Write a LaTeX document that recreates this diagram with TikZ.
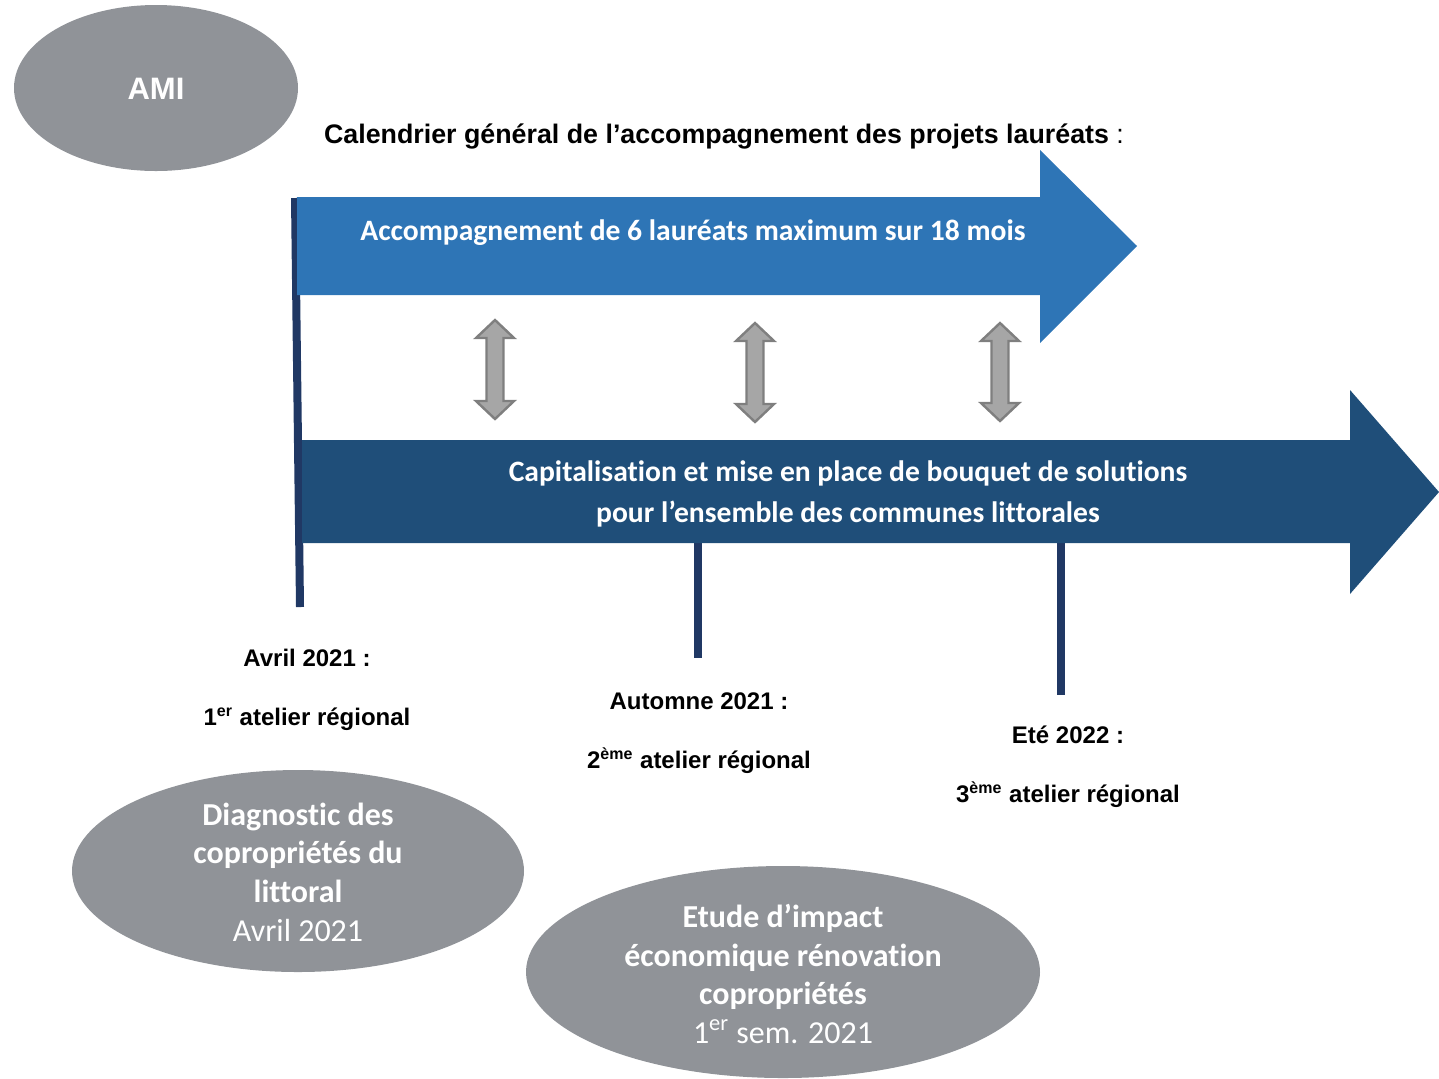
\documentclass[tikz,border=0pt]{standalone}
\usepackage{fontspec}
\setmainfont{Liberation Sans}
\newfontfamily\carlito[Ligatures=NoCommon]{Carlito}
\usepackage{tikz}

\definecolor{ovalgrey}{RGB}{144,147,152}
\definecolor{arrowblue}{RGB}{46,117,182}
\definecolor{arrownavy}{RGB}{31,78,121}
\definecolor{poleblue}{RGB}{32,56,100}
\definecolor{dblfill}{RGB}{166,166,166}
\definecolor{dbldraw}{RGB}{127,127,127}

\tikzset{
  pole/.style={draw=poleblue, line width=4pt},
  dblarrow/.style={fill=dblfill, draw=dbldraw, line width=1.2pt, line join=miter},
  datelabel/.style={inner sep=0pt, font=\fontsize{12}{14}\bfseries},
  ovaltext/.style={inner sep=0pt, align=center, text=white, font=\carlito\fontsize{16}{19.3}\selectfont},
  bandtext/.style={inner sep=0pt, align=center, text=white, font=\carlito\fontsize{14.8}{20.5}\selectfont\bfseries}
}

\begin{document}
\begin{tikzpicture}[x=0.5pt,y=0.5pt,yscale=-1,xscale=1]
\useasboundingbox (0,0) rectangle (1439,1078);

%Shape: Ellipse [AMI]
\fill [ovalgrey] (156,88) ellipse (142 and 83);
% Text Node
\draw (156,89) node (ami) [inner sep=0pt, text=white, font=\fontsize{15.5}{17}\bfseries] {AMI};

% Text Node
\draw (724,136.5) node (title) [inner sep=0pt, font=\fontsize{13.4}{15}\selectfont] {{\bfseries Calendrier général de l’accompagnement des projets lauréats} :};

%Straight Lines [poles]
\draw [pole] (295,198) -- (300,607);
\draw [pole] (698,540) -- (698,658);
\draw [pole] (1061,540) -- (1061,695);

%Shape: Right Arrow [top band]
\fill [arrowblue] (297,197) -- (1040,197) -- (1040,150) -- (1137,246) -- (1040,343) -- (1040,295) -- (297,295) -- cycle;
% Text Node
\draw (693,233) node (band1) [bandtext] {Accompagnement de 6 lauréats maximum sur 18 mois};

%Shape: Right Arrow [bottom band]
\fill [arrownavy] (302,440) -- (1350,440) -- (1350,390) -- (1439,492) -- (1350,594) -- (1350,543) -- (302,543) -- cycle;
% Text Node
\draw (848,493.5) node (band2) [bandtext] {Capitalisation et mise en place de bouquet de solutions\\pour l’ensemble des communes littorales};

%Shape: Up Down Arrow [links between bands]
\draw [dblarrow, shift={(495,320)}] (0,0) -- (19,18) -- (8.5,18) -- (8.5,81) -- (19,81) -- (0,99) -- (-19,81) -- (-8.5,81) -- (-8.5,18) -- (-19,18) -- cycle;
\draw [dblarrow, shift={(755,323)}] (0,0) -- (19,18) -- (8.5,18) -- (8.5,81) -- (19,81) -- (0,99) -- (-19,81) -- (-8.5,81) -- (-8.5,18) -- (-19,18) -- cycle;
\draw [dblarrow, shift={(1000,323)}] (0,0) -- (19,18) -- (8.5,18) -- (8.5,80) -- (19,80) -- (0,98) -- (-19,80) -- (-8.5,80) -- (-8.5,18) -- (-19,18) -- cycle;

% Text Node
\draw (307,658) node (date1) [datelabel] {Avril 2021 :};
% Text Node
\draw (307,719) node (atelier1) [datelabel] {1\textsuperscript{er} atelier régional};
% Text Node
\draw (699,701) node (date2) [datelabel] {Automne 2021 :};
% Text Node
\draw (699,761) node (atelier2) [datelabel] {2\textsuperscript{ème} atelier régional};
% Text Node
\draw (1068,735) node (date3) [datelabel] {Eté 2022 :};
% Text Node
\draw (1068,795) node (atelier3) [datelabel] {3\textsuperscript{ème} atelier régional};

%Shape: Ellipse [diagnostic]
\fill [ovalgrey] (298,871) ellipse (226 and 101);
% Text Node
\draw (298,872) node (diag) [ovaltext] {\bfseries Diagnostic des\\\bfseries copropriétés du\\\bfseries littoral\\Avril 2021};

%Shape: Ellipse [etude]
\fill [ovalgrey] (783,972) ellipse (257 and 106);
% Text Node
\draw (783,974) node (etude) [ovaltext] {\bfseries Etude d’impact\\\bfseries économique rénovation\\\bfseries copropriétés\\1\textsuperscript{er} sem. 2021};

\end{tikzpicture}
\end{document}
